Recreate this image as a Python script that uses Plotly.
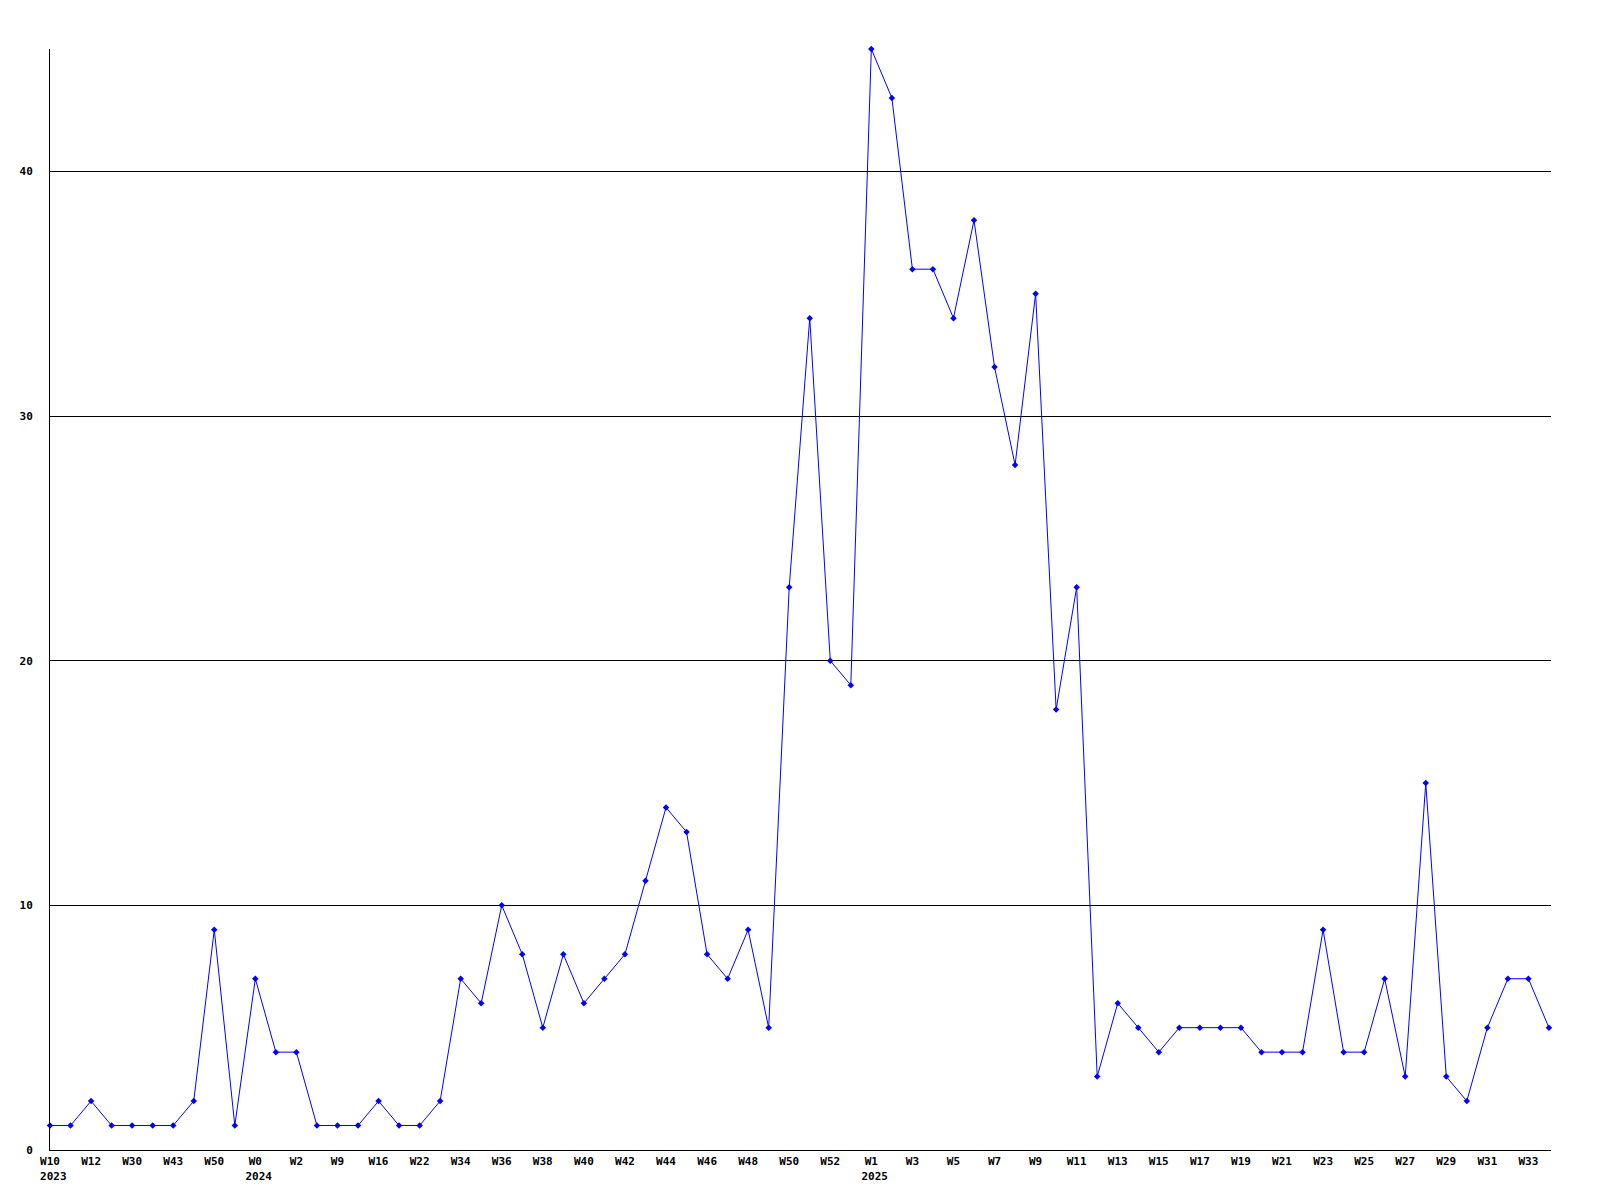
import plotly.graph_objects as go

weeks = [
    "W10", "W11", "W12", "W13", "W30", "W35", "W43", "W47", "W50", "W52",
    "W0", "W1", "W2", "W5", "W9", "W12", "W16", "W19", "W22", "W27",
    "W34", "W35", "W36", "W37", "W38", "W39", "W40", "W41", "W42", "W43",
    "W44", "W45", "W46", "W47", "W48", "W49", "W50", "W51", "W52", "W53",
    "W1", "W2", "W3", "W4", "W5", "W6", "W7", "W8", "W9", "W10",
    "W11", "W12", "W13", "W14", "W15", "W16", "W17", "W18", "W19", "W20",
    "W21", "W22", "W23", "W24", "W25", "W26", "W27", "W28", "W29", "W30",
    "W31", "W32", "W33", "W34",
]
years = {0: "2023", 10: "2024", 40: "2025"}

counts = [
    1, 1, 2, 1, 1, 1, 1, 2, 9, 1,
    7, 4, 4, 1, 1, 1, 2, 1, 1, 2,
    7, 6, 10, 8, 5, 8, 6, 7, 8, 11,
    14, 13, 8, 7, 9, 5, 23, 34, 20, 19,
    45, 43, 36, 36, 34, 38, 32, 28, 35, 18,
    23, 3, 6, 5, 4, 5, 5, 5, 5, 4,
    4, 4, 9, 4, 4, 7, 3, 15, 3, 2,
    5, 7, 7, 5,
]

y_ticks = [0, 10, 20, 30, 40]

x = list(range(len(counts)))
tickvals = [i for i in x if i % 2 == 0]
ticktext = [weeks[i] + ("<br>\u00a0" + years[i] if i in years else "") for i in tickvals]

font = dict(family="DejaVu Sans Mono", size=11, color="black", weight="bold")

fig = go.Figure(
    go.Scatter(
        x=x, y=counts, mode="lines+markers",
        line=dict(color="#0000ff", width=1),
        marker=dict(color="#0000ff", size=5, symbol="diamond"),
        cliponaxis=False,
    )
)

fig.update_layout(
    width=1600, height=1200,
    margin=dict(l=42, r=57, t=41, b=58),
    paper_bgcolor="white", plot_bgcolor="white",
    showlegend=False,
    font=font,
)
fig.update_xaxes(
    range=[0, 73.1], tickvals=tickvals, ticktext=ticktext,
    showgrid=False, zeroline=False, showline=True, linecolor="black", linewidth=1,
    ticks="", tickfont=font, tickangle=0, ticklabelstandoff=1,
)
fig.update_yaxes(
    range=[0, 45], tickvals=y_ticks, showgrid=True, gridcolor="black", gridwidth=1,
    zeroline=False, showline=True, linecolor="black", linewidth=1,
    ticks="", tickfont=font, ticklabelstandoff=14,
)

fig.write_html("out.html")
